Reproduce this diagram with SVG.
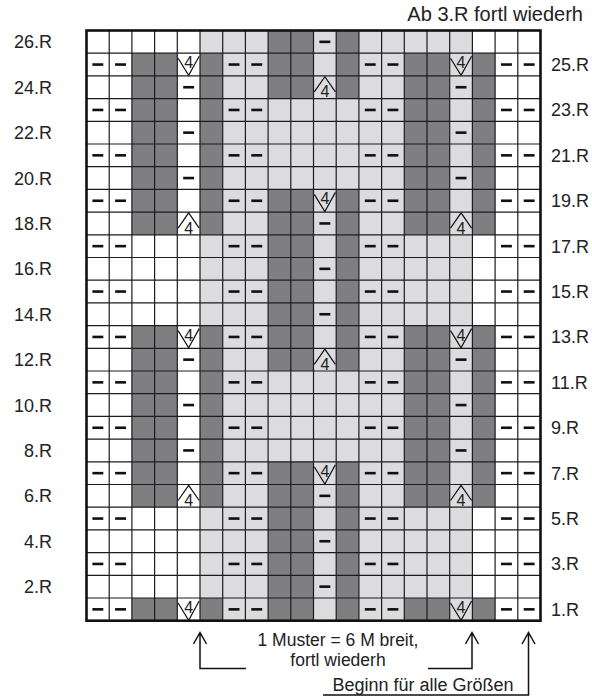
<svg xmlns="http://www.w3.org/2000/svg" xmlns:xlink="http://www.w3.org/1999/xlink" width="592" height="697" viewBox="0 0 592 697">
<style>
.d{fill:#7f7f82}
.l{fill:#dcdcde}
.grid{fill:none;stroke:#1c1c1c;stroke-width:1.2}
.border{fill:none;stroke:#111;stroke-width:2.6}
.sym{fill:none;stroke:#111;stroke-width:1.2}
.dash{fill:#111}
.num{font-family:"Liberation Sans",Arial,sans-serif;font-size:16px;fill:#222;text-anchor:middle}
.lbl{font-family:"Liberation Sans",Arial,sans-serif;font-size:18px;fill:#222}
.end{text-anchor:end}
.mid{text-anchor:middle}
.arr{fill:none;stroke:#111;stroke-width:1.5}
</style>
<defs>
<rect id="dash" class="dash" x="5.9" y="10.05" width="10.9" height="2.6"/>
<g id="v4"><path class="sym" d="M0.8,5 L11.35,22.2 L21.9,3"/><text class="num" x="11.35" y="15">4</text></g>
<g id="a4"><path class="sym" d="M0.8,16 L11.35,0.8 L21.9,16"/><text class="num" x="11.35" y="21.5">4</text></g>
<g id="fA">
<rect class="d" x="131.9" y="0" width="45.4" height="22.7"/>
<rect class="d" x="200" y="0" width="22.7" height="22.7"/>
<rect class="l" x="222.7" y="0" width="45.4" height="22.7"/>
<rect class="d" x="268.1" y="0" width="45.4" height="22.7"/>
<rect class="l" x="313.5" y="0" width="22.7" height="22.7"/>
<rect class="d" x="336.2" y="0" width="22.7" height="22.7"/>
<rect class="l" x="358.9" y="0" width="45.4" height="22.7"/>
<rect class="d" x="404.3" y="0" width="45.4" height="22.7"/>
<rect class="l" x="449.7" y="0" width="22.7" height="22.7"/>
<rect class="d" x="472.4" y="0" width="22.7" height="22.7"/>
</g>
<g id="fB">
<rect class="l" x="200" y="0" width="68.1" height="22.7"/>
<rect class="d" x="268.1" y="0" width="45.4" height="22.7"/>
<rect class="l" x="313.5" y="0" width="22.7" height="22.7"/>
<rect class="d" x="336.2" y="0" width="22.7" height="22.7"/>
<rect class="l" x="358.9" y="0" width="113.5" height="22.7"/>
</g>
<g id="fH">
<rect class="d" x="131.9" y="0" width="45.4" height="22.7"/>
<rect class="d" x="200" y="0" width="22.7" height="22.7"/>
<rect class="l" x="222.7" y="0" width="181.6" height="22.7"/>
<rect class="d" x="404.3" y="0" width="45.4" height="22.7"/>
<rect class="l" x="449.7" y="0" width="22.7" height="22.7"/>
<rect class="d" x="472.4" y="0" width="22.7" height="22.7"/>
</g>
<g id="dOdd">
<use xlink:href="#dash" x="86.5"/><use xlink:href="#dash" x="109.2"/>
<use xlink:href="#dash" x="222.7"/><use xlink:href="#dash" x="245.4"/>
<use xlink:href="#dash" x="358.9"/><use xlink:href="#dash" x="381.6"/>
<use xlink:href="#dash" x="495.1"/><use xlink:href="#dash" x="517.8"/>
</g>
<g id="rA"><use xlink:href="#fA"/><use xlink:href="#dOdd"/><use xlink:href="#v4" x="177.3"/><use xlink:href="#v4" x="449.7"/></g>
<g id="rB"><use xlink:href="#fB"/><use xlink:href="#dash" x="313.5"/></g>
<g id="rC"><use xlink:href="#fB"/><use xlink:href="#dOdd"/></g>
<g id="rF"><use xlink:href="#fA"/><use xlink:href="#a4" x="177.3"/><use xlink:href="#dash" x="313.5"/><use xlink:href="#a4" x="449.7"/></g>
<g id="rG"><use xlink:href="#fA"/><use xlink:href="#dOdd"/><use xlink:href="#v4" x="313.5"/></g>
<g id="rH"><use xlink:href="#fH"/><use xlink:href="#dash" x="177.3"/><use xlink:href="#dash" x="449.7"/></g>
<g id="rI"><use xlink:href="#fH"/><use xlink:href="#dOdd"/></g>
<g id="rL"><use xlink:href="#fA"/><use xlink:href="#dash" x="177.3"/><use xlink:href="#a4" x="313.5"/><use xlink:href="#dash" x="449.7"/></g>
</defs>

<g id="chart">
<rect x="86.5" y="30.5" width="454" height="590.2" fill="#fff"/>
<g id="rows">
<use xlink:href="#rB" y="30.5"/>
<use xlink:href="#rA" y="53.2"/>
<use xlink:href="#rL" y="75.9"/>
<use xlink:href="#rI" y="98.6"/>
<use xlink:href="#rH" y="121.3"/>
<use xlink:href="#rI" y="144"/>
<use xlink:href="#rH" y="166.7"/>
<use xlink:href="#rG" y="189.4"/>
<use xlink:href="#rF" y="212.1"/>
<use xlink:href="#rC" y="234.8"/>
<use xlink:href="#rB" y="257.5"/>
<use xlink:href="#rC" y="280.2"/>
<use xlink:href="#rB" y="302.9"/>
<use xlink:href="#rA" y="325.6"/>
<use xlink:href="#rL" y="348.3"/>
<use xlink:href="#rI" y="371"/>
<use xlink:href="#rH" y="393.7"/>
<use xlink:href="#rI" y="416.4"/>
<use xlink:href="#rH" y="439.1"/>
<use xlink:href="#rG" y="461.8"/>
<use xlink:href="#rF" y="484.5"/>
<use xlink:href="#rC" y="507.2"/>
<use xlink:href="#rB" y="529.9"/>
<use xlink:href="#rC" y="552.6"/>
<use xlink:href="#rB" y="575.3"/>
<use xlink:href="#rA" y="598"/>
</g>
<path class="grid" d="M109.2,30.5V620.7M131.9,30.5V620.7M154.6,30.5V620.7M177.3,30.5V620.7M200,30.5V620.7M222.7,30.5V620.7M245.4,30.5V620.7M268.1,30.5V620.7M290.8,30.5V620.7M313.5,30.5V620.7M336.2,30.5V620.7M358.9,30.5V620.7M381.6,30.5V620.7M404.3,30.5V620.7M427,30.5V620.7M449.7,30.5V620.7M472.4,30.5V620.7M495.1,30.5V620.7M517.8,30.5V620.7
M86.5,53.2H540.5M86.5,75.9H540.5M86.5,98.6H540.5M86.5,121.3H540.5M86.5,144H540.5M86.5,166.7H540.5M86.5,189.4H540.5M86.5,212.1H540.5M86.5,234.8H540.5M86.5,257.5H540.5M86.5,280.2H540.5M86.5,302.9H540.5M86.5,325.6H540.5M86.5,348.3H540.5M86.5,371H540.5M86.5,393.7H540.5M86.5,416.4H540.5M86.5,439.1H540.5M86.5,461.8H540.5M86.5,484.5H540.5M86.5,507.2H540.5M86.5,529.9H540.5M86.5,552.6H540.5M86.5,575.3H540.5M86.5,598H540.5"/>
<rect class="border" x="86.5" y="30.5" width="454" height="590.2"/>
</g>

<g id="labels-left" class="lbl end">
<text x="52" y="48.4">26.R</text>
<text x="52" y="93.7">24.R</text>
<text x="52" y="139.1">22.R</text>
<text x="52" y="184.5">20.R</text>
<text x="52" y="229.9">18.R</text>
<text x="52" y="275.3">16.R</text>
<text x="52" y="320.7">14.R</text>
<text x="52" y="366.1">12.R</text>
<text x="52" y="411.5">10.R</text>
<text x="52" y="456.9">8.R</text>
<text x="52" y="502.3">6.R</text>
<text x="52" y="547.7">4.R</text>
<text x="52" y="593.1">2.R</text>
</g>
<g id="labels-right" class="lbl">
<text x="551" y="71">25.R</text>
<text x="551" y="116.4">23.R</text>
<text x="551" y="161.8">21.R</text>
<text x="551" y="207.2">19.R</text>
<text x="551" y="252.6">17.R</text>
<text x="551" y="298">15.R</text>
<text x="551" y="343.4">13.R</text>
<text x="551" y="388.8">11.R</text>
<text x="551" y="434.2">9.R</text>
<text x="551" y="479.6">7.R</text>
<text x="551" y="525">5.R</text>
<text x="551" y="570.4">3.R</text>
<text x="551" y="615.8">1.R</text>
</g>
<text id="top-note" class="lbl end" x="583" y="21" style="font-size:20px">Ab 3.R fortl wiederh</text>

<g id="connectors">
<path class="arr" d="M200,632.5V668.5H246M193.5,644L200,632.5L206.5,644"/>
<path class="arr" d="M472,632.5V668.5H428M465.5,644L472,632.5L478.5,644"/>
<path class="arr" d="M528.5,632.5V695H323M522,644L528.5,632.5L535,644"/>
</g>
<g id="notes" class="lbl mid">
<text x="338" y="646" style="font-size:17.5px">1 Muster = 6 M breit,</text>
<text x="338" y="665.5" style="font-size:17.5px">fortl wiederh</text>
<text x="423" y="690.7">Beginn für alle Größen</text>
</g>
</svg>
